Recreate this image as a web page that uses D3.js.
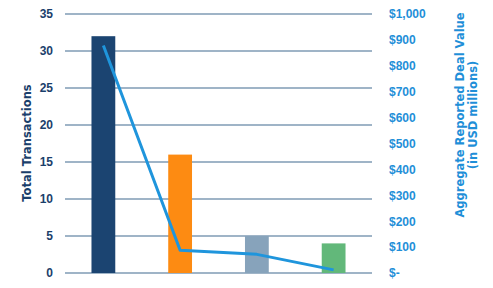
<!DOCTYPE html>
<html>
<head>
<meta charset="utf-8">
<script src="https://cdn.jsdelivr.net/npm/d3@7"></script>
<style>
  body { margin: 0; background: #fff; }
  svg { display: block; font-family: "DejaVu Sans", Verdana, sans-serif; }
</style>
</head>
<body>
<script>
const categories = ["A", "B", "C", "D"]
const transactions = [32, 16, 5, 4]
const dealValues = [878, 88, 72, 12]
const barColors = ["#1b4471", "#fd8b12", "#87a3bb", "#62b87a"]
const leftTicks = [0, 5, 10, 15, 20, 25, 30, 35]
const rightTicks = [0, 100, 200, 300, 400, 500, 600, 700, 800, 900, 1000]

function drawChart() {
  let dimensions = {
    width: 493,
    height: 288,
    margin: { top: 14, right: 121, bottom: 15, left: 65 },
  }
  dimensions.boundedWidth = dimensions.width - dimensions.margin.left - dimensions.margin.right
  dimensions.boundedHeight = dimensions.height - dimensions.margin.top - dimensions.margin.bottom

  const wrapper = d3.select("body")
    .append("svg")
      .attr("width", dimensions.width)
      .attr("height", dimensions.height)

  const bounds = wrapper.append("g")
    .attr("transform", `translate(${dimensions.margin.left},${dimensions.margin.top})`)

  // scales
  const xScale = d3.scaleBand()
    .domain(categories)
    .range([0, dimensions.boundedWidth])
    .paddingInner(0.69)
    .paddingOuter(0.345)

  const yScale = d3.scaleLinear()
    .domain([0, 35])
    .range([dimensions.boundedHeight, 0])

  const y2Scale = d3.scaleLinear()
    .domain([0, 1000])
    .range([dimensions.boundedHeight, 0])

  // gridlines
  bounds.append("g")
    .selectAll("line")
    .data(leftTicks)
    .join("line")
      .attr("x1", 0)
      .attr("x2", dimensions.boundedWidth)
      .attr("y1", d => yScale(d))
      .attr("y2", d => yScale(d))
      .attr("stroke", "#7f9bb5")
      .attr("stroke-width", 1.3)

  // bars
  bounds.append("g")
    .selectAll("rect")
    .data(transactions)
    .join("rect")
      .attr("x", (d, i) => xScale(categories[i]))
      .attr("y", d => yScale(d))
      .attr("width", xScale.bandwidth())
      .attr("height", d => dimensions.boundedHeight - yScale(d))
      .attr("fill", (d, i) => barColors[i])

  // line
  const lineGenerator = d3.line()
    .x((d, i) => xScale(categories[i]) + xScale.bandwidth() / 2)
    .y(d => y2Scale(d))

  bounds.append("path")
    .datum(dealValues)
    .attr("d", lineGenerator)
    .attr("fill", "none")
    .attr("stroke", "#1f95dc")
    .attr("stroke-width", 3)
    .attr("stroke-linejoin", "round")

  // left axis
  const yAxis = bounds.append("g")
    .call(d3.axisLeft(yScale).tickValues(leftTicks).tickSize(0).tickPadding(12))
  yAxis.select(".domain").remove()
  yAxis.selectAll("text")
    .attr("fill", "#1b3f6b")
    .style("font-size", "12px")
    .style("font-weight", "bold")

  // right axis
  const y2Axis = bounds.append("g")
    .attr("transform", `translate(${dimensions.boundedWidth},0)`)
    .call(d3.axisRight(y2Scale)
      .tickValues(rightTicks)
      .tickSize(0)
      .tickPadding(17)
      .tickFormat(d => d == 0 ? "$-" : d3.format("$,")(d)))
  y2Axis.select(".domain").remove()
  y2Axis.selectAll("text")
    .attr("fill", "#1f8fd8")
    .style("font-size", "12px")
    .style("font-weight", "bold")

  // axis titles
  wrapper.append("text")
    .attr("transform", `translate(31,143) rotate(-90)`)
    .attr("text-anchor", "middle")
    .attr("fill", "#1b3f6b")
    .style("font-size", "11.5px")
    .style("font-weight", "bold")
    .text("Total Transactions")

  const rightTitle = wrapper.append("text")
    .attr("transform", `translate(464,115) rotate(-90)`)
    .attr("text-anchor", "middle")
    .attr("fill", "#1f8fd8")
    .style("font-size", "11.5px")
    .style("font-weight", "bold")
  rightTitle.append("tspan").attr("x", 0).attr("y", 0).text("Aggregate Reported Deal Value")
  rightTitle.append("tspan").attr("x", 0).attr("y", 13).text("(in USD millions)")
}
drawChart()
</script>
</body>
</html>
